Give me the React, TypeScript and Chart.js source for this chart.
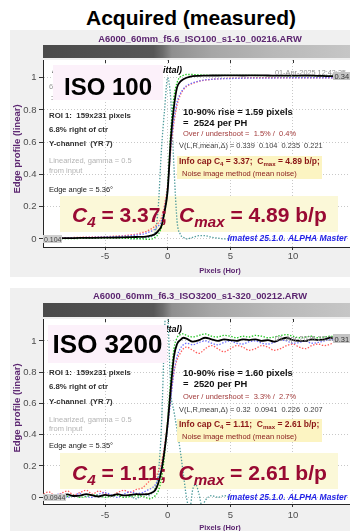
import React, { useEffect, useRef } from 'react';
import { Chart, registerables } from 'chart.js';

Chart.register(...registerables);

const FONT = '"Liberation Sans", Arial, Helvetica, sans-serif';

// ---------------- data ----------------
const xTicks = [-5, 0, 5, 10];
const xTickLabels = ['-5', '0', '5', '10'];
const yTicks = [0, 0.2, 0.4, 0.6, 0.8, 1];
const yTickLabels = ['0', '0.2', '0.4', '0.6', '0.8', '1'];

// ISO 100 panel
const iso100X = [-9.9, -9, -8, -7, -6, -5, -4, -3.5, -3, -2.5, -2, -1.75, -1.5, -1.25, -1, -0.75, -0.5, -0.25, 0, 0.25, 0.5, 0.75, 1, 1.25, 1.5, 2, 2.5, 3, 3.5, 4, 5, 6, 7, 8, 9, 10, 11, 12, 13, 14, 14.6];
const iso100Y = [0.003, 0.004, 0.005, 0.006, 0.007, 0.008, 0.009, 0.01, 0.011, 0.012, 0.013, 0.015, 0.018, 0.022, 0.03, 0.05, 0.08, 0.17, 0.3, 0.62, 0.82, 0.94, 0.975, 0.99, 1.0, 1.01, 1.012, 1.013, 1.014, 1.014, 1.015, 1.014, 1.015, 1.014, 1.013, 1.013, 1.014, 1.012, 1.01, 1.01, 1.008];
const iso100R = [0.005, 0.006, 0.008, 0.01, 0.012, 0.014, 0.018, 0.02, 0.025, 0.03, 0.04, 0.045, 0.055, 0.065, 0.08, 0.1, 0.13, 0.21, 0.34, 0.55, 0.72, 0.83, 0.89, 0.925, 0.945, 0.965, 0.978, 0.985, 0.99, 0.993, 0.997, 0.998, 1.0, 1.0, 1.0, 1.0, 1.0, 1.0, 1.0, 1.0, 1.0];
const iso100G = [0.0, 0.001, 0.002, 0.003, 0.004, 0.005, 0.005, 0.004, 0.003, 0.002, 0.0, -0.002, -0.003, 0.0, 0.01, 0.03, 0.07, 0.16, 0.33, 0.68, 0.88, 0.97, 1.005, 1.015, 1.02, 1.02, 1.018, 1.016, 1.015, 1.015, 1.014, 1.015, 1.014, 1.013, 1.013, 1.012, 1.013, 1.012, 1.01, 1.01, 1.008];
const iso100B = [0.004, 0.005, 0.006, 0.008, 0.01, 0.012, 0.015, 0.017, 0.02, 0.024, 0.03, 0.035, 0.042, 0.05, 0.062, 0.08, 0.11, 0.19, 0.32, 0.57, 0.74, 0.85, 0.9, 0.93, 0.95, 0.968, 0.98, 0.987, 0.99, 0.993, 0.995, 0.997, 0.998, 0.998, 0.999, 1.0, 1.0, 1.0, 1.0, 1.0, 1.0];
const iso100LsfX = [-3, -2.5, -2, -1.5, -1.25, -1, -0.75, -0.5, -0.25, 0, 0.25, 0.5, 0.75, 1, 1.25, 1.5, 2, 2.5, 3, 3.5, 4, 4.5, 5];
const iso100Lsf = [0.0, 0.0, 0.005, 0.01, 0.015, 0.04, 0.2, 0.55, 0.8, 1.0, 0.86, 0.45, 0.11, 0.03, 0.01, 0.0, 0.01, 0.02, 0.02, 0.01, 0.005, 0.0, 0.0];

// ISO 3200 panel
const iso3200X = [-9.9, -9.5, -9, -8.5, -8, -7.5, -7, -6.5, -6, -5.5, -5, -4.5, -4, -3.5, -3, -2.5, -2, -1.75, -1.5, -1.25, -1, -0.75, -0.5, -0.25, 0, 0.25, 0.5, 0.75, 1, 1.25, 1.5, 2, 2.5, 3, 3.5, 4, 4.5, 5, 5.5, 6, 6.5, 7, 7.5, 8, 8.5, 9, 9.5, 10, 10.5, 11, 11.5, 12, 12.5, 13, 13.5, 14, 14.5];
const iso3200Y = [0.01, 0.015, 0.005, 0.012, 0.018, 0.008, 0.01, 0.02, 0.012, 0.005, 0.015, 0.01, 0.02, 0.012, 0.015, 0.02, 0.018, 0.02, 0.022, 0.03, 0.045, 0.09, 0.17, 0.3, 0.47, 0.7, 0.9, 0.98, 1.005, 1.02, 1.015, 0.995, 1.005, 1.02, 1.01, 1.0, 1.01, 1.005, 1.0, 1.01, 1.005, 1.01, 1.0, 1.005, 0.995, 1.01, 1.02, 1.005, 1.0, 1.0, 1.01, 1.005, 1.01, 1.02, 1.015, 1.02, 1.015];
const iso3200G = [0.0, 0.01, 0.015, 0.0, 0.005, 0.012, 0.0, 0.005, 0.015, 0.01, 0.0, 0.008, 0.012, 0.0, 0.005, 0.01, 0.005, 0.0, -0.01, -0.005, 0.01, 0.04, 0.12, 0.27, 0.5, 0.76, 0.95, 1.02, 1.04, 1.045, 1.035, 1.025, 1.035, 1.045, 1.03, 1.025, 1.035, 1.03, 1.02, 1.03, 1.025, 1.035, 1.03, 1.02, 1.025, 1.035, 1.04, 1.03, 1.02, 1.025, 1.03, 1.02, 1.025, 1.03, 1.02, 1.01, 1.005];
const iso3200R = [0.02, 0.035, 0.01, 0.025, 0.04, 0.015, 0.03, 0.045, 0.02, 0.04, 0.025, 0.01, 0.03, 0.045, 0.03, 0.05, 0.06, 0.08, 0.1, 0.12, 0.13, 0.16, 0.22, 0.33, 0.48, 0.65, 0.8, 0.88, 0.92, 0.95, 0.96, 0.94, 0.92, 0.95, 0.97, 0.95, 0.93, 0.95, 0.97, 0.96, 0.94, 0.95, 0.97, 0.96, 0.94, 0.95, 0.97, 0.98, 0.96, 0.95, 0.97, 0.98, 0.97, 0.98, 1.0, 1.0, 0.99];
const iso3200B = [0.01, -0.005, 0.015, 0.02, 0.0, 0.01, 0.025, 0.005, 0.0, 0.02, 0.03, 0.015, 0.0, 0.02, 0.035, 0.025, 0.03, 0.04, 0.05, 0.06, 0.08, 0.12, 0.19, 0.3, 0.45, 0.63, 0.8, 0.9, 0.95, 0.975, 0.985, 0.975, 0.99, 1.0, 0.985, 0.975, 0.99, 1.0, 0.985, 0.98, 0.995, 1.0, 0.985, 0.98, 0.99, 1.005, 1.0, 0.985, 0.99, 1.0, 0.985, 0.99, 1.0, 1.01, 1.0, 0.995, 1.0];
const iso3200LsfX = [-3, -2.5, -2, -1.5, -1.25, -1, -0.75, -0.5, -0.25, -0.1, 0, 0.25, 0.5, 0.75, 1, 1.25, 1.5, 1.75, 2, 2.25, 2.5, 2.75, 3, 3.5, 4, 4.5, 5];
const iso3200Lsf = [0.01, -0.01, 0.02, 0.01, 0.03, 0.06, 0.15, 0.45, 1.05, 1.3, 1.2, 0.68, 0.55, 0.43, 0.3, 0.15, 0.0, -0.08, 0.05, 0.08, 0.02, -0.06, -0.02, 0.01, 0.0, 0.01, 0.0];

// ---------------- helpers ----------------
type Seg = { t: string; sub?: boolean; it?: boolean };

function drawText(
  ctx: CanvasRenderingContext2D, s: string, x: number, y: number,
  o: { size: number; bold?: boolean; italic?: boolean; color?: string; align?: CanvasTextAlign }
) {
  ctx.save();
  ctx.font = `${o.italic ? 'italic ' : ''}${o.bold ? 'bold ' : ''}${o.size}px ${FONT}`;
  ctx.fillStyle = o.color || '#000';
  ctx.textAlign = o.align || 'left';
  ctx.textBaseline = 'alphabetic';
  ctx.fillText(s, x, y);
  ctx.restore();
}

function richWidth(ctx: CanvasRenderingContext2D, segs: Seg[], size: number, subScale: number) {
  let w = 0;
  ctx.save();
  for (const sg of segs) {
    const fs = sg.sub ? size * subScale : size;
    ctx.font = `${sg.it ? 'italic ' : ''}bold ${fs}px ${FONT}`;
    w += ctx.measureText(sg.t).width;
  }
  ctx.restore();
  return w;
}

function drawRich(ctx: CanvasRenderingContext2D, segs: Seg[], x: number, y: number, size: number, color: string, subScale: number, subDrop: number) {
  ctx.save();
  ctx.fillStyle = color;
  ctx.textAlign = 'left';
  ctx.textBaseline = 'alphabetic';
  let cx = x;
  for (const sg of segs) {
    const fs = sg.sub ? size * subScale : size;
    ctx.font = `${sg.it ? 'italic ' : ''}bold ${fs}px ${FONT}`;
    ctx.fillText(sg.t, cx, sg.sub ? y + subDrop : y);
    cx += ctx.measureText(sg.t).width;
  }
  ctx.restore();
}

const PURPLE = '#5b2570';

interface PanelCfg {
  top: number; height: number; padTop: number; xAxisH: number; yMin: number; yMax: number; xLabelPad: number;
  fileName: string; titleY: number; barY: [number, number];
  isoLabel: string; isoBox: number[]; isoSize: number; isoY: number;
  headerY: number; showHidden: boolean;
  leftY: number[]; edgeAngle: string;
  rightY: number[]; rise: string; perPH: string; overshoot: string; vline: string;
  infoBox: number[]; infoY: number; noiseY: number; c4: string; cmax: string;
  bigBox: number[]; bigY: number; imatestY: number;
  date: string; dateY: number;
  rLabel: string; rBox: number[]; lLabel: string; lBox: number[];
  xTitleY: number; yTitleY: number;
  x: number[]; yc: number[]; r: number[]; g: number[]; b: number[]; lsfX: number[]; lsf: number[];
}

const panel1: PanelCfg = {
  top: 30, height: 247, padTop: 30, xAxisH: 30, yMin: -0.05, yMax: 1.11, xLabelPad: 1,
  fileName: 'A6000_60mm_f5.6_ISO100_s1-10_00216.ARW', titleY: 42, barY: [45, 58],
  isoLabel: 'ISO 100', isoBox: [53, 65, 163, 100], isoSize: 24, isoY: 95,
  headerY: 73, showHidden: true,
  leftY: [118, 132, 146, 163, 173, 192], edgeAngle: 'Edge angle = 5.36°',
  rightY: [115, 126, 136, 148], rise: '10-90% rise = 1.59 pixels', perPH: '=  2524 per PH',
  overshoot: 'Over / undershoot =  1.5% /  0.4%', vline: 'V(L,R,mean,Δ) = 0.339  0.104  0.235  0.221',
  infoBox: [177, 156, 322, 179], infoY: 164, noiseY: 176, c4: '3.37', cmax: '4.89',
  bigBox: [60, 196, 338, 232], bigY: 222, imatestY: 241,
  date: '01-Apr-2025 12:43:35', dateY: 75,
  rLabel: '0.34', rBox: [333, 72, 352, 80], lLabel: '0.104', lBox: [43, 235, 62, 243],
  xTitleY: 273, yTitleY: 149,
  x: iso100X, yc: iso100Y, r: iso100R, g: iso100G, b: iso100B, lsfX: iso100LsfX, lsf: iso100Lsf,
};

const panel2: PanelCfg = {
  top: 288, height: 243, padTop: 31, xAxisH: 27, yMin: -0.043, yMax: 1.14, xLabelPad: 3,
  fileName: 'A6000_60mm_f6.3_ISO3200_s1-320_00212.ARW', titleY: 299, barY: [303, 317],
  isoLabel: 'ISO 3200', isoBox: [48, 325, 167, 363], isoSize: 26, isoY: 353,
  headerY: 332, showHidden: false,
  leftY: [375, 389, 404, 422, 431, 448], edgeAngle: 'Edge angle = 5.35°',
  rightY: [376, 387, 399, 412], rise: '10-90% rise = 1.60 pixels', perPH: '=  2520 per PH',
  overshoot: 'Over / undershoot =  3.3% /  2.7%', vline: 'V(L,R,mean,Δ) = 0.32  0.0941  0.226  0.207',
  infoBox: [177, 419, 322, 442], infoY: 427, noiseY: 439, c4: '1.11', cmax: '2.61',
  bigBox: [60, 453, 338, 489], bigY: 480, imatestY: 500,
  date: '01-Apr-2025 23:39:30', dateY: 341,
  rLabel: '0.31', rBox: [333, 334, 352, 343], lLabel: '0.0944', lBox: [43, 494, 66, 501],
  xTitleY: 530, yTitleY: 408,
  x: iso3200X, yc: iso3200Y, r: iso3200R, g: iso3200G, b: iso3200B, lsfX: iso3200LsfX, lsf: iso3200Lsf,
};

function panelPlugin(cfg: PanelCfg) {
  const X = (x: number) => x - 10;
  const Y = (y: number) => y - cfg.top;
  const rect = (ctx: CanvasRenderingContext2D, b: number[], color: string) => {
    ctx.save();
    ctx.fillStyle = color;
    ctx.fillRect(X(b[0]), Y(b[1]), b[2] - b[0], b[3] - b[1]);
    ctx.restore();
  };
  return {
    id: 'panel' + cfg.top,
    beforeDraw(chart: any) {
      const ctx: CanvasRenderingContext2D = chart.ctx;
      const ca = chart.chartArea;
      ctx.save();
      ctx.fillStyle = '#ffffff';
      ctx.fillRect(ca.left, ca.top, ca.right - ca.left, ca.bottom - ca.top);
      // edge image strip
      const g = ctx.createLinearGradient(X(43), 0, X(350), 0);
      g.addColorStop(0, '#4a4a4a');
      g.addColorStop(0.36, '#575757');
      g.addColorStop(0.39, '#6c6c6c');
      g.addColorStop(0.42, '#8f8f8f');
      g.addColorStop(0.55, '#a6a6a6');
      g.addColorStop(0.75, '#b8b8b8');
      g.addColorStop(1, '#c6c6c6');
      ctx.fillStyle = g;
      ctx.fillRect(X(43), Y(cfg.barY[0]), X(350) - X(43), cfg.barY[1] - cfg.barY[0]);
      ctx.restore();
      drawText(ctx, cfg.fileName, X(200), Y(cfg.titleY), { size: 9.4, bold: true, color: PURPLE, align: 'center' });
      // axis titles
      drawText(ctx, 'Pixels (Hor)', X(220), Y(cfg.xTitleY), { size: 7.5, bold: true, color: PURPLE, align: 'center' });
      ctx.save();
      ctx.translate(X(17.5), Y(cfg.yTitleY));
      ctx.rotate(-Math.PI / 2);
      ctx.font = `bold 9.5px ${FONT}`;
      ctx.fillStyle = PURPLE;
      ctx.textAlign = 'center';
      ctx.textBaseline = 'middle';
      ctx.fillText('Edge profile (linear)', 0, 0);
      ctx.restore();
    },
    beforeDatasetsDraw(chart: any) {
      const ctx: CanvasRenderingContext2D = chart.ctx;
      rect(ctx, cfg.bigBox, '#fbf8d8');
      // top ticks of the box
      const xs = chart.scales.x;
      const ca = chart.chartArea;
      ctx.save();
      ctx.strokeStyle = '#333';
      ctx.lineWidth = 1;
      for (const v of xTicks) {
        const px = Math.round(xs.getPixelForValue(v)) + 0.5;
        ctx.beginPath();
        ctx.moveTo(px, ca.top);
        ctx.lineTo(px, ca.top + 3);
        ctx.stroke();
      }
      ctx.restore();
    },
    afterDatasetsDraw(chart: any) {
      const ctx: CanvasRenderingContext2D = chart.ctx;
      // header (mostly hidden by ISO box)
      drawText(ctx, 'Edge profile: Vertical (sagittal)', X(182), Y(cfg.headerY), { size: 9, bold: true, italic: true, align: 'right' });
      if (cfg.showHidden) {
        drawText(ctx, '60mm lens', X(49), Y(cfg.headerY + 16), { size: 7.5, color: '#999' });
        drawText(ctx, ' :', X(49), Y(cfg.headerY + 27), { size: 7.5, color: '#333' });
      }
      // ISO box
      rect(ctx, cfg.isoBox, '#fcf1fa');
      drawText(ctx, cfg.isoLabel, X((cfg.isoBox[0] + cfg.isoBox[2]) / 2), Y(cfg.isoY), { size: cfg.isoSize, bold: true, align: 'center' });
      // left annotations
      const L = 49;
      drawText(ctx, 'ROI 1:  159x231 pixels', X(L), Y(cfg.leftY[0]), { size: 7.8, bold: true, color: '#303030' });
      drawText(ctx, '6.8% right of ctr', X(L), Y(cfg.leftY[1]), { size: 7.8, bold: true, color: '#303030' });
      drawText(ctx, 'Y-channel  (YR 7)', X(L), Y(cfg.leftY[2]), { size: 7.8, bold: true, color: '#303030' });
      drawText(ctx, 'Linearized, gamma = 0.5', X(L), Y(cfg.leftY[3]), { size: 7.5, color: '#b4b4b4' });
      drawText(ctx, 'from input', X(L), Y(cfg.leftY[4]), { size: 7.5, color: '#b4b4b4' });
      drawText(ctx, cfg.edgeAngle, X(L), Y(cfg.leftY[5]), { size: 7.5, color: '#202020' });
      // right annotations
      drawText(ctx, cfg.rise, X(183), Y(cfg.rightY[0]), { size: 9.4, bold: true, color: '#111' });
      drawText(ctx, cfg.perPH, X(183), Y(cfg.rightY[1]), { size: 9.4, bold: true, color: '#111' });
      drawText(ctx, cfg.overshoot, X(183), Y(cfg.rightY[2]), { size: 7.5, color: '#a23b3b' });
      drawText(ctx, cfg.vline, X(179), Y(cfg.rightY[3]), { size: 7.4, color: '#3c3c3c' });
      rect(ctx, cfg.infoBox, '#fcf4c2');
      drawRich(ctx, [
        { t: 'Info cap C' }, { t: '4', sub: true }, { t: ' = ' + cfg.c4 + ';  C' }, { t: 'max', sub: true }, { t: ' = ' + cfg.cmax + ' b/p;' },
      ], X(179), Y(cfg.infoY), 8.5, '#8a1515', 0.72, 2);
      drawText(ctx, 'Noise image method (mean noise)', X(182), Y(cfg.noiseY), { size: 7.5, color: '#8a2020' });
      // big metric, fitted to its span in the reference
      const big: Seg[] = [
        { t: 'C', it: true }, { t: '4', sub: true, it: true }, { t: ' = ' + cfg.c4 + ';  ' },
        { t: 'C', it: true }, { t: 'max', sub: true, it: true }, { t: ' = ' + cfg.cmax + ' b/p' },
      ];
      const w0 = richWidth(ctx, big, 22, 0.72);
      const bs = 22 * 255 / w0;
      drawRich(ctx, big, X(72), Y(cfg.bigY), bs, '#990a33', 0.72, bs * 0.22);
      drawText(ctx, 'Imatest 25.1.0. ALPHA Master', X(347), Y(cfg.imatestY), { size: 8.5, bold: true, italic: true, color: '#1f1fe6', align: 'right' });
      drawText(ctx, cfg.date, X(275), Y(cfg.dateY), { size: 7.3, color: '#8c8c8c' });
      // value boxes
      rect(ctx, cfg.rBox, '#c4c4c4');
      drawText(ctx, cfg.rLabel, X(cfg.rBox[0] + 1.5), Y(cfg.rBox[3] - 1), { size: 7.5, color: '#333' });
      rect(ctx, cfg.lBox, '#cfcfcf');
      drawText(ctx, cfg.lLabel, X(cfg.lBox[0] + 1), Y(cfg.lBox[3] - 1), { size: 7, color: '#444' });
    },
  };
}

function makeChart(canvas: HTMLCanvasElement, cfg: PanelCfg) {
  const pts = (xs: number[], ys: number[]) => xs.map((x, i) => ({ x, y: ys[i] }));
  const dotted = [1.4, 1.6];
  return new Chart(canvas, {
    type: 'line',
    data: {
      datasets: [
        { label: 'Y', data: pts(cfg.x, cfg.yc), borderColor: '#000000', borderWidth: 1.8 },
        { label: 'G', data: pts(cfg.x, cfg.g), borderColor: '#1fc41f', borderWidth: 1.3, borderDash: dotted },
        { label: 'B', data: pts(cfg.x, cfg.b), borderColor: '#6b6bff', borderWidth: 1.3, borderDash: dotted },
        { label: 'R', data: pts(cfg.x, cfg.r), borderColor: '#ff5a5a', borderWidth: 1.3, borderDash: dotted },
        { label: 'LSF', data: pts(cfg.lsfX, cfg.lsf), borderColor: '#4f9c9c', borderWidth: 1.3, borderDash: dotted },
      ] as any,
    },
    options: {
      animation: false,
      responsive: false,
      events: [],
      layout: { padding: { top: cfg.padTop, left: 0, right: 0, bottom: 0 } },
      elements: { point: { radius: 0 }, line: { cubicInterpolationMode: 'monotone', fill: false } },
      plugins: { legend: { display: false }, tooltip: { enabled: false }, title: { display: false } },
      scales: {
        x: {
          type: 'linear', min: -9.95, max: 14.55,
          afterBuildTicks: (s: any) => { s.ticks = xTicks.map((v) => ({ value: v })); },
          afterFit: (s: any) => { s.height = cfg.xAxisH; },
          ticks: {
            autoSkip: false, maxRotation: 0, padding: cfg.xLabelPad, color: '#4d4d4d',
            font: { family: FONT, size: 9.5 },
            callback: (v: any) => xTickLabels[xTicks.indexOf(Number(v))],
          },
          grid: { color: '#c8c8c8', lineWidth: 1, tickLength: 3, tickColor: '#333' },
          border: { display: true, color: '#262626', width: 1, dash: [1, 2] },
        },
        y: {
          type: 'linear', min: cfg.yMin, max: cfg.yMax,
          afterBuildTicks: (s: any) => { s.ticks = yTicks.map((v) => ({ value: v })); },
          afterFit: (s: any) => { s.width = 33; },
          ticks: {
            padding: 2.5, color: '#4d4d4d',
            font: { family: FONT, size: 9.5 },
            callback: (v: any) => yTickLabels[yTicks.indexOf(Number(v))],
          },
          grid: { color: '#c8c8c8', lineWidth: 1, tickLength: 4, tickColor: '#333' },
          border: { display: true, color: '#262626', width: 1, dash: [1, 2] },
        },
      },
    } as any,
    plugins: [panelPlugin(cfg) as any],
  });
}

export default function App() {
  const c1 = useRef<HTMLCanvasElement>(null);
  const c2 = useRef<HTMLCanvasElement>(null);
  useEffect(() => {
    const ch1 = makeChart(c1.current as HTMLCanvasElement, panel1);
    const ch2 = makeChart(c2.current as HTMLCanvasElement, panel2);
    return () => { ch1.destroy(); ch2.destroy(); };
  }, []);
  const panelStyle = (cfg: PanelCfg): React.CSSProperties => ({
    position: 'absolute', left: 10, top: cfg.top, width: 340, height: cfg.height, background: '#f0f0f0',
  });
  return (
    <div style={{ position: 'absolute', left: 0, top: 0, width: 350, height: 531, background: '#fff', overflow: 'hidden', fontFamily: FONT }}>
      <div style={{ position: 'absolute', left: 0, top: 7, width: 382, textAlign: 'center', fontSize: 21, fontWeight: 'bold', lineHeight: '21px', color: '#000', whiteSpace: 'nowrap' }}>
        Acquired (measured)
      </div>
      <div style={panelStyle(panel1)}>
        <canvas ref={c1} width={340} height={panel1.height} style={{ display: 'block', width: 340, height: panel1.height }} />
      </div>
      <div style={panelStyle(panel2)}>
        <canvas ref={c2} width={340} height={panel2.height} style={{ display: 'block', width: 340, height: panel2.height }} />
      </div>
    </div>
  );
}
